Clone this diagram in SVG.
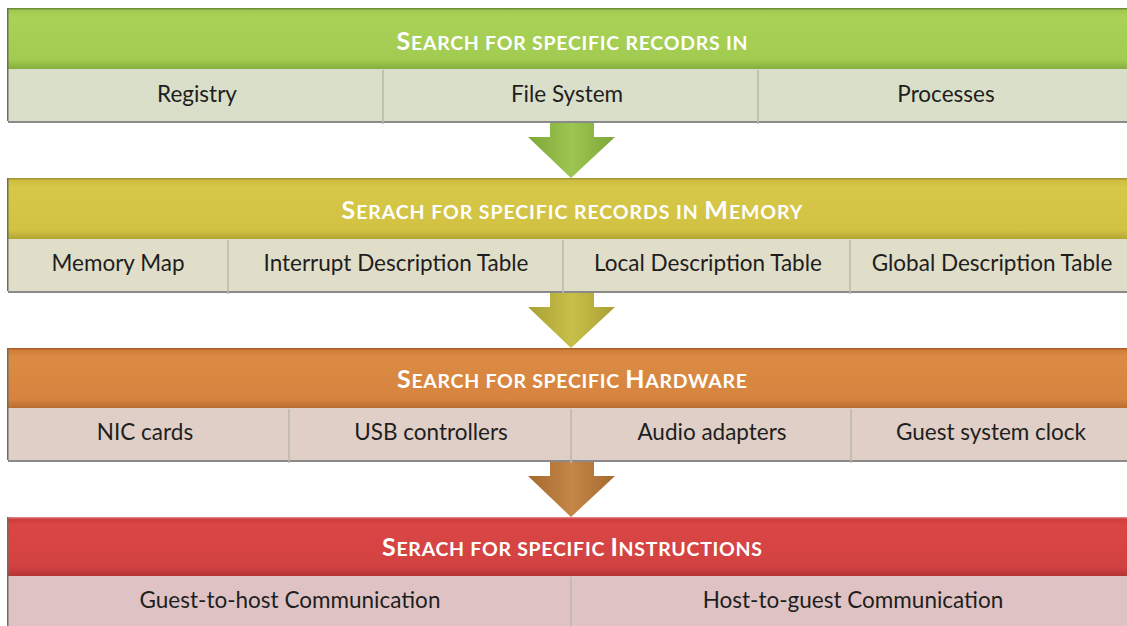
<svg xmlns="http://www.w3.org/2000/svg" width="1127" height="626" viewBox="0 0 1127 626">
<defs>
<linearGradient id="gG" x1="0" y1="0" x2="0" y2="1"><stop offset="0" stop-color="#9cc64b"/><stop offset="0.15" stop-color="#a9d257"/><stop offset="0.85" stop-color="#a2cb51"/><stop offset="1" stop-color="#86ad3e"/></linearGradient>
<linearGradient id="gY" x1="0" y1="0" x2="0" y2="1"><stop offset="0" stop-color="#c9b93c"/><stop offset="0.15" stop-color="#d7c848"/><stop offset="0.85" stop-color="#d2c244"/><stop offset="1" stop-color="#b3a535"/></linearGradient>
<linearGradient id="gO" x1="0" y1="0" x2="0" y2="1"><stop offset="0" stop-color="#cc7a36"/><stop offset="0.15" stop-color="#db8b44"/><stop offset="0.85" stop-color="#d6843f"/><stop offset="1" stop-color="#b86c30"/></linearGradient>
<linearGradient id="gR" x1="0" y1="0" x2="0" y2="1"><stop offset="0" stop-color="#c93a3a"/><stop offset="0.15" stop-color="#da4646"/><stop offset="0.85" stop-color="#d24141"/><stop offset="1" stop-color="#b33434"/></linearGradient>
<linearGradient id="aG" x1="0" y1="0" x2="1" y2="0"><stop offset="0" stop-color="#7fa63a"/><stop offset="0.5" stop-color="#9cc650"/><stop offset="1" stop-color="#7fa63a"/></linearGradient>
<linearGradient id="aY" x1="0" y1="0" x2="1" y2="0"><stop offset="0" stop-color="#a9a036"/><stop offset="0.5" stop-color="#c8bf48"/><stop offset="1" stop-color="#a9a036"/></linearGradient>
<linearGradient id="aO" x1="0" y1="0" x2="1" y2="0"><stop offset="0" stop-color="#a56a30"/><stop offset="0.5" stop-color="#c58646"/><stop offset="1" stop-color="#a56a30"/></linearGradient>
</defs>
<style>
.title{font-family:Lato,"Open Sans","Liberation Sans",sans-serif;font-weight:bold;font-size:19.5px;fill:#ffffff;text-anchor:middle}
.big{font-size:25px}
.sub{font-family:Lato,"Open Sans","Liberation Sans",sans-serif;font-size:22.5px;fill:#1e1e1e;text-anchor:middle}
.div{stroke:#b9b9a8;stroke-width:1.5}
.shadow{fill:#8a8a8a}
.edge{fill:#6e6e5e}
</style>
<rect width="1127" height="626" fill="#ffffff"/>

<g id="connectors">
<path d="M550,122 H594 V137 H615 L571,178 L528,137 H550 Z" fill="url(#aG)"/>
<path d="M550,292 H594 V307 H615 L571,348 L528,307 H550 Z" fill="url(#aY)"/>
<path d="M550,461 H594 V476 H615 L571,517 L528,476 H550 Z" fill="url(#aO)"/>
</g>

<g id="band1">
<rect x="8" y="8" width="1119" height="61" fill="url(#gG)"/>
<rect x="8" y="8" width="1119" height="1.5" fill="#6f8e35"/>
<rect x="8" y="69" width="1119" height="52" fill="#d9dfc8"/>
<rect x="8" y="121" width="1119" height="2" class="shadow"/>
<rect x="7" y="8" width="1.5" height="113" class="edge"/>
<line x1="383" y1="70" x2="383" y2="124" class="div"/>
<line x1="758" y1="70" x2="758" y2="124" class="div"/>
<text x="572" y="50" class="title" textLength="351" lengthAdjust="spacing"><tspan class="big">S</tspan>EARCH FOR SPECIFIC RECODRS IN</text>
<text x="197" y="102" class="sub">Registry</text>
<text x="567" y="102" class="sub">File System</text>
<text x="946" y="102" class="sub">Processes</text>
</g>

<g id="band2">
<rect x="8" y="178" width="1119" height="61" fill="url(#gY)"/>
<rect x="8" y="178" width="1119" height="1.5" fill="#a49630"/>
<rect x="8" y="239" width="1119" height="52" fill="#e0ddc8"/>
<rect x="8" y="291" width="1119" height="2" class="shadow"/>
<rect x="7" y="178" width="1.5" height="113" class="edge"/>
<line x1="228" y1="240" x2="228" y2="294" class="div"/>
<line x1="563" y1="240" x2="563" y2="294" class="div"/>
<line x1="850" y1="240" x2="850" y2="294" class="div"/>
<text x="572" y="219" class="title" textLength="461" lengthAdjust="spacing"><tspan class="big">S</tspan>ERACH FOR SPECIFIC RECORDS IN <tspan class="big">M</tspan>EMORY</text>
<text x="118" y="271" class="sub">Memory Map</text>
<text x="396" y="271" class="sub">Interrupt Description Table</text>
<text x="708" y="271" class="sub">Local Description Table</text>
<text x="992" y="271" class="sub">Global Description Table</text>
</g>

<g id="band3">
<rect x="8" y="348" width="1119" height="60" fill="url(#gO)"/>
<rect x="8" y="348" width="1119" height="1.5" fill="#a85f28"/>
<rect x="8" y="408" width="1119" height="52" fill="#e0cfc6"/>
<rect x="8" y="460" width="1119" height="2" class="shadow"/>
<rect x="7" y="348" width="1.5" height="112" class="edge"/>
<line x1="289" y1="409" x2="289" y2="463" class="div"/>
<line x1="571" y1="409" x2="571" y2="463" class="div"/>
<line x1="851" y1="409" x2="851" y2="463" class="div"/>
<text x="572" y="388" class="title" textLength="350" lengthAdjust="spacing"><tspan class="big">S</tspan>EARCH FOR SPECIFIC <tspan class="big">H</tspan>ARDWARE</text>
<text x="145" y="440" class="sub">NIC cards</text>
<text x="431" y="440" class="sub">USB controllers</text>
<text x="712" y="440" class="sub">Audio adapters</text>
<text x="991" y="440" class="sub">Guest system clock</text>
</g>

<g id="band4">
<rect x="8" y="517" width="1119" height="59" fill="url(#gR)"/>
<rect x="8" y="517" width="1119" height="1.5" fill="#e07a7a"/>
<rect x="8" y="576" width="1119" height="50" fill="#dfc3c4"/>
<rect x="7" y="517" width="1.5" height="109" class="edge"/>
<line x1="571" y1="577" x2="571" y2="626" class="div"/>
<text x="572" y="556" class="title" textLength="380" lengthAdjust="spacing"><tspan class="big">S</tspan>ERACH FOR SPECIFIC <tspan class="big">I</tspan>NSTRUCTIONS</text>
<text x="290" y="608" class="sub">Guest-to-host Communication</text>
<text x="853" y="608" class="sub">Host-to-guest Communication</text>
</g>
</svg>
